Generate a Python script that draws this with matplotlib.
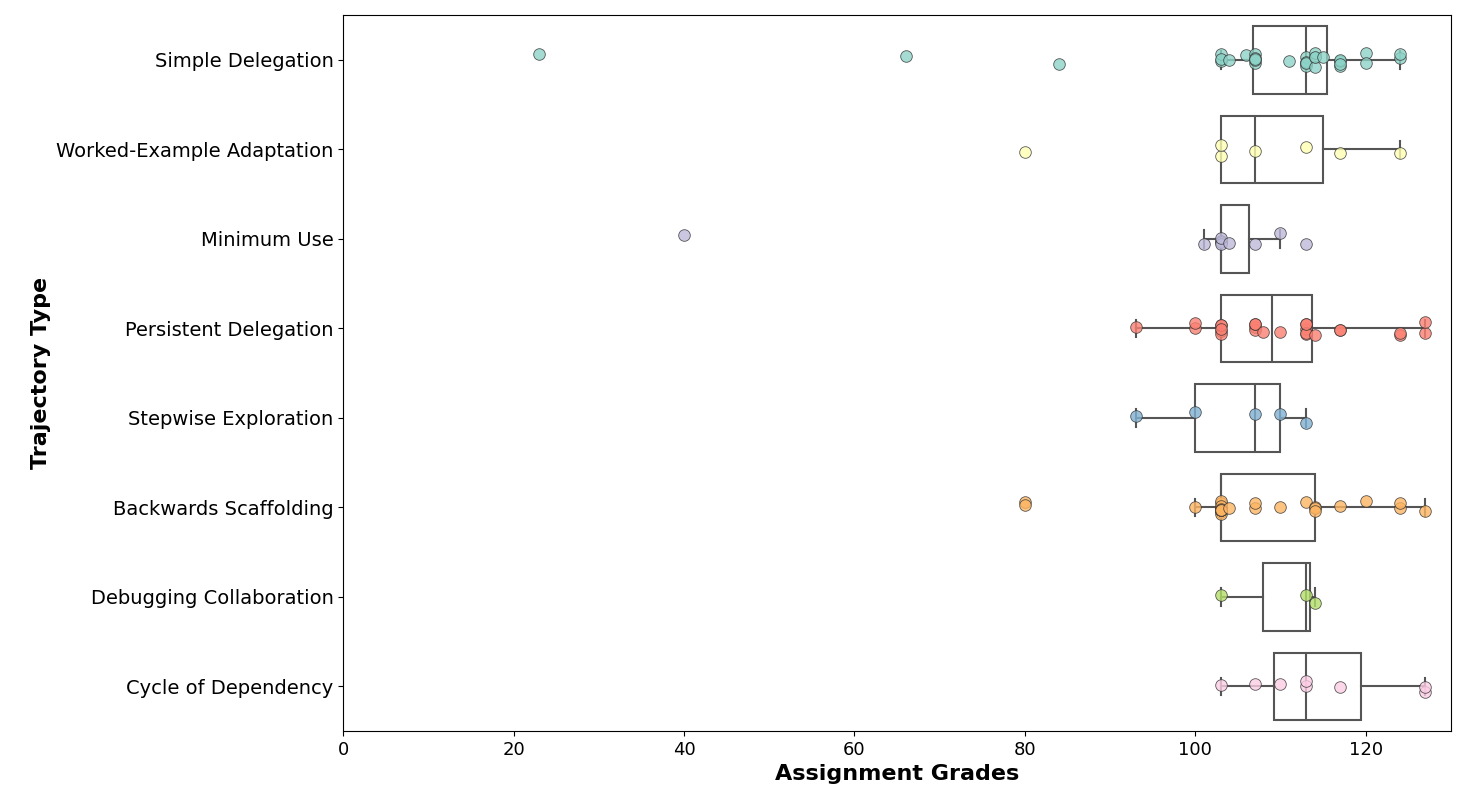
import numpy as np
import matplotlib
matplotlib.use("Agg")
import matplotlib.pyplot as plt

categories = ["Simple Delegation", "Worked-Example Adaptation", "Minimum Use",
              "Persistent Delegation", "Stepwise Exploration", "Backwards Scaffolding",
              "Debugging Collaboration", "Cycle of Dependency"]
simple = [23, 66, 84] + [103]*3 + [104, 106] + [107]*5 + [111] + [113]*5 + [114]*4 + [115] + [117]*4 + [120]*2 + [124]*2
worked = [80, 103, 103, 107, 113, 117, 124]
minimum = [40, 101, 103, 103, 103, 103, 104, 107, 110, 113]
persistent = [93, 100, 100] + [103]*5 + [107]*4 + [108, 110] + [113]*5 + [114, 117, 117, 124, 124, 127, 127]
stepwise = [93, 100, 107, 110, 113]
backwards = [80, 80, 100] + [103]*12 + [104, 107, 107, 110, 113, 114, 114, 114, 117, 120, 124, 124, 127]
debugging = [103, 113, 114]
cycle = [103, 107, 110, 113, 113, 117, 127, 127]
series = [simple, worked, minimum, persistent, stepwise, backwards, debugging, cycle]
colors = ["#8dd3c7", "#ffffb3", "#bebada", "#fb8072", "#80b1d3", "#fdb462", "#b3de69", "#fccde5"]

fig, ax = plt.subplots(figsize=(14.67, 8), dpi=100)
pos = np.arange(len(categories))
ax.boxplot(series, positions=pos, vert=False, widths=0.75, showfliers=False,
           patch_artist=True, whis=1.5,
           boxprops=dict(facecolor="white", edgecolor="#555555", linewidth=1.5),
           medianprops=dict(color="#555555", linewidth=1.5),
           whiskerprops=dict(color="#555555", linewidth=1.5),
           capprops=dict(color="#555555", linewidth=1.5), capwidths=0.2 * 0 + 0.0)
# caps drawn as short vertical lines
for i, s in enumerate(series):
    a = np.array(s, float)
    q1, q3 = np.percentile(a, [25, 75])
    iqr = q3 - q1
    lo = a[a >= q1 - 1.5 * iqr].min()
    hi = a[a <= q3 + 1.5 * iqr].max()
    for v in (lo, hi):
        ax.plot([v, v], [i - 0.1, i + 0.1], color="#555555", lw=1.5, zorder=2)

rng = np.random.default_rng(3)
for i, s in enumerate(series):
    y = i + rng.uniform(-0.08, 0.08, len(s))
    ax.scatter(s, y, s=70, color=colors[i], edgecolor="#333333", linewidth=0.6,
               alpha=0.8, zorder=3)

ax.set_yticks(pos)
ax.set_yticklabels(categories, fontsize=14)
ax.set_ylim(len(categories) - 0.5, -0.5)
ax.set_xlim(0, 130)
ax.tick_params(axis="x", labelsize=13)
ax.set_xlabel("Assignment Grades", fontsize=16, fontweight="bold")
ax.set_ylabel("Trajectory Type", fontsize=16, fontweight="bold")
plt.subplots_adjust(left=0.234, right=0.989, top=0.981, bottom=0.086)
fig.savefig("out.png", dpi=100)
